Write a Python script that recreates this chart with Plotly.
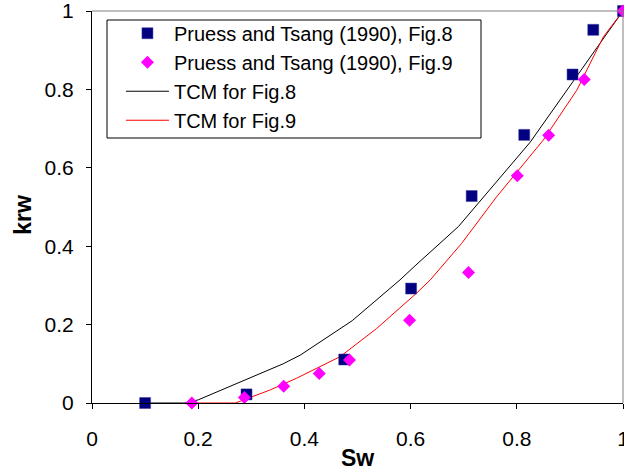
import plotly.graph_objects as go

# Measured relative permeability (Pruess and Tsang, 1990)
sw_fig8 = [0.10, 0.291, 0.475, 0.601, 0.715, 0.814, 0.905, 0.944, 1.0]
krw_fig8 = [0.0, 0.022, 0.111, 0.292, 0.528, 0.684, 0.838, 0.952, 1.0]

sw_fig9 = [0.188, 0.287, 0.361, 0.428, 0.485, 0.598, 0.709, 0.801, 0.860, 0.927, 1.0]
krw_fig9 = [0.0, 0.014, 0.043, 0.075, 0.110, 0.211, 0.333, 0.580, 0.683, 0.825, 1.0]

# TCM model curves
sw_tcm8 = [0.10, 0.175, 0.20, 0.28, 0.36, 0.392, 0.49, 0.58, 0.61, 0.69, 0.825, 0.97, 1.0]
krw_tcm8 = [0.0, 0.0, 0.008, 0.054, 0.100, 0.122, 0.210, 0.314, 0.352, 0.450, 0.665, 0.943, 1.0]

sw_tcm9 = [0.18, 0.27, 0.28, 0.335, 0.385, 0.467, 0.536, 0.611, 0.637, 0.696, 0.762, 0.822,
           0.85, 0.913, 0.963, 1.0]
krw_tcm9 = [0.0, 0.0, 0.005, 0.033, 0.063, 0.118, 0.190, 0.280, 0.314, 0.407, 0.526, 0.624,
            0.671, 0.798, 0.934, 1.0]

tick_vals = [0, 0.2, 0.4, 0.6, 0.8, 1]
tick_text = ["0", "0.2", "0.4", "0.6", "0.8", "1"]

FONT = "Liberation Sans, Arial, sans-serif"

fig = go.Figure()

fig.add_trace(go.Scatter(
    x=sw_tcm8, y=krw_tcm8, mode="lines", name="TCM for Fig.8",
    line=dict(color="black", width=1), legendrank=3, cliponaxis=False))
fig.add_trace(go.Scatter(
    x=sw_tcm9, y=krw_tcm9, mode="lines", name="TCM for Fig.9",
    line=dict(color="#FF0000", width=1), legendrank=4, cliponaxis=False))
fig.add_trace(go.Scatter(
    x=sw_fig8, y=krw_fig8, mode="markers", name="Pruess and Tsang (1990), Fig.8",
    marker=dict(symbol="square", size=11, color="#000080",
                line=dict(color="#3a3a9a", width=0.5)),
    legendrank=1, cliponaxis=False))
fig.add_trace(go.Scatter(
    x=sw_fig9, y=krw_fig9, mode="markers", name="Pruess and Tsang (1990), Fig.9",
    marker=dict(symbol="diamond", size=10, color="#FF00FF", line=dict(width=0)),
    legendrank=2, cliponaxis=False))

axis_common = dict(
    range=[0, 1], tickvals=tick_vals, ticktext=tick_text,
    ticks="outside", ticklen=5, tickwidth=1, tickcolor="black",
    showline=True, linecolor="black", linewidth=1,
    showgrid=False, zeroline=False, ticklabeloverflow="allow", automargin=False,
    tickfont=dict(family=FONT, size=21, color="black"),
)

fig.update_layout(
    width=624, height=472,
    margin=dict(l=92, r=1, t=11, b=69),
    paper_bgcolor="white", plot_bgcolor="white",
    xaxis=dict(**axis_common, ticklabelstandoff=12),
    yaxis=dict(**axis_common, ticklabelstandoff=8),
    showlegend=True,
    legend=dict(
        x=0.0545, y=0.993, xanchor="left", yanchor="top",
        bgcolor="rgba(0,0,0,0)", borderwidth=0,
        font=dict(family=FONT, size=20, color="black"),
        itemwidth=43, traceorder="normal",
    ),
    shapes=[
        # plot-area frame (top and right edges)
        dict(type="line", xref="paper", yref="paper", x0=0, x1=1, y0=1, y1=1,
             line=dict(color="#808080", width=1)),
        dict(type="line", xref="paper", yref="paper", x0=1, x1=1, y0=0, y1=1,
             line=dict(color="#808080", width=1)),
        # legend box
        dict(type="rect", xref="paper", yref="paper",
             x0=(107 - 92) / 531, x1=(481 - 92) / 531,
             y0=(403 - 138) / 392, y1=(403 - 20) / 392,
             line=dict(color="black", width=1), layer="below"),
    ],
    annotations=[
        dict(text="<b>Sw</b>", xref="paper", yref="paper", x=0.5, y=-0.14,
             xanchor="center", yanchor="middle", showarrow=False,
             font=dict(family=FONT, size=23, color="black")),
        dict(text="<b>krw</b>", xref="paper", yref="paper", x=-0.13, y=0.48,
             xanchor="center", yanchor="middle", showarrow=False, textangle=-90,
             font=dict(family=FONT, size=23, color="black")),
    ],
)

fig.write_html("out.html")
